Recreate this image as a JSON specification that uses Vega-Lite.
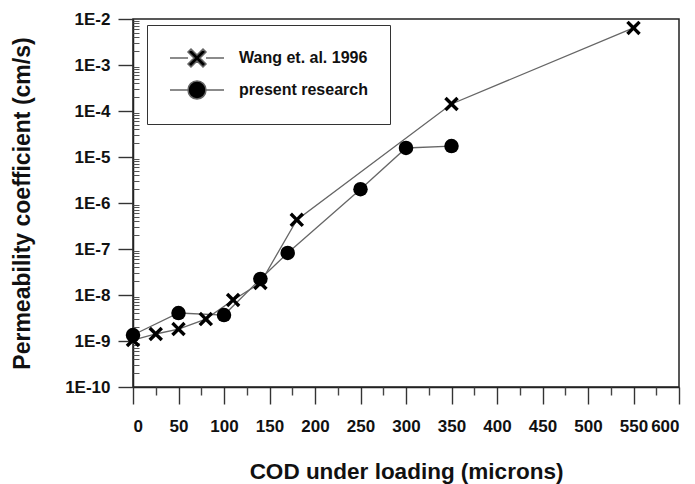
{
  "$schema": "https://vega.github.io/schema/vega-lite/v6.json",
  "width": 546,
  "height": 368,
  "autosize": "none",
  "padding": {"left": 133, "top": 19, "right": 16, "bottom": 97},
  "background": "white",
  "config": {
    "view": {"stroke": "#222", "strokeWidth": 1.5},
    "font": "Liberation Sans",
    "axis": {
      "labelFont": "Liberation Sans",
      "labelFontWeight": "bold",
      "labelFontSize": 17,
      "labelColor": "#111",
      "tickColor": "#333",
      "tickWidth": 1.4,
      "domainColor": "#222",
      "domainWidth": 1.5,
      "grid": false,
      "titleFont": "Liberation Sans",
      "titleFontWeight": "bold",
      "titleColor": "#111"
    }
  },
  "data": {
    "values": [
      {"series": "Wang et. al. 1996", "cod": 0, "k": 1.05e-9},
      {"series": "Wang et. al. 1996", "cod": 25, "k": 1.42e-9},
      {"series": "Wang et. al. 1996", "cod": 50, "k": 1.82e-9},
      {"series": "Wang et. al. 1996", "cod": 80, "k": 3.0e-9},
      {"series": "Wang et. al. 1996", "cod": 110, "k": 7.8e-9},
      {"series": "Wang et. al. 1996", "cod": 140, "k": 1.82e-8},
      {"series": "Wang et. al. 1996", "cod": 180, "k": 4.3e-7},
      {"series": "Wang et. al. 1996", "cod": 350, "k": 1.42e-4},
      {"series": "Wang et. al. 1996", "cod": 550, "k": 6.4e-3},
      {"series": "present research", "cod": 0, "k": 1.35e-9},
      {"series": "present research", "cod": 50, "k": 4.06e-9},
      {"series": "present research", "cod": 100, "k": 3.67e-9},
      {"series": "present research", "cod": 140, "k": 2.23e-8},
      {"series": "present research", "cod": 170, "k": 8.2e-8},
      {"series": "present research", "cod": 250, "k": 2.0e-6},
      {"series": "present research", "cod": 300, "k": 1.57e-5},
      {"series": "present research", "cod": 350, "k": 1.73e-5}
    ]
  },
  "layer": [
    {
      "mark": {"type": "line", "color": "#666", "strokeWidth": 1.3},
      "encoding": {
        "x": {
          "field": "cod", "type": "quantitative",
          "scale": {"domain": [0, 600], "nice": false, "zero": false},
          "axis": {
            "values": [0, 50, 100, 150, 200, 250, 300, 350, 400, 450, 500, 550, 600],
            "tickSize": 17,
            "labelPadding": 14,
            "title": "COD under loading (microns)",
            "titleFontSize": 22.5,
            "titlePadding": 26
          }
        },
        "y": {
          "field": "k", "type": "quantitative",
          "scale": {"type": "log", "domain": [1e-10, 1e-2], "nice": false},
          "axis": {
            "values": [1e-10, 1e-9, 1e-8, 1e-7, 1e-6, 1e-5, 1e-4, 1e-3, 1e-2],
            "labelExpr": "'1E' + round(log(datum.value) / LN10)",
            "tickSize": 15,
            "labelPadding": 8,
            "title": "Permeability coefficient (cm/s)",
            "titleFontSize": 23,
            "titlePadding": 30
          }
        },
        "detail": {"field": "series", "type": "nominal"}
      }
    },
    {
      "mark": {"type": "point", "filled": true, "color": "black", "opacity": 1, "size": 210},
      "encoding": {
        "x": {
          "field": "cod", "type": "quantitative",
          "axis": {
            "orient": "bottom",
            "values": [25, 75, 125, 175, 225, 275, 325, 375, 425, 475, 525, 575],
            "tickSize": 8,
            "tickColor": "#444",
            "labels": false,
            "domain": false,
            "title": null
          }
        },
        "y": {
          "field": "k", "type": "quantitative",
          "axis": {
            "orient": "right",
            "offset": -546,
            "values": [2e-10, 3e-10, 4e-10, 5e-10, 6e-10, 7e-10, 8e-10, 9e-10,
                       2e-9, 3e-9, 4e-9, 5e-9, 6e-9, 7e-9, 8e-9, 9e-9,
                       2e-8, 3e-8, 4e-8, 5e-8, 6e-8, 7e-8, 8e-8, 9e-8,
                       2e-7, 3e-7, 4e-7, 5e-7, 6e-7, 7e-7, 8e-7, 9e-7,
                       2e-6, 3e-6, 4e-6, 5e-6, 6e-6, 7e-6, 8e-6, 9e-6,
                       2e-5, 3e-5, 4e-5, 5e-5, 6e-5, 7e-5, 8e-5, 9e-5,
                       2e-4, 3e-4, 4e-4, 5e-4, 6e-4, 7e-4, 8e-4, 9e-4,
                       2e-3, 3e-3, 4e-3, 5e-3, 6e-3, 7e-3, 8e-3, 9e-3],
            "tickSize": 6,
            "tickWidth": 1,
            "tickColor": "#555",
            "labels": false,
            "domain": false,
            "title": null
          }
        },
        "shape": {
          "field": "series", "type": "nominal",
          "scale": {
            "domain": ["Wang et. al. 1996", "present research"],
            "range": ["M0.667,-1L1,-0.667L0.332,0L1,0.667L0.667,1L0,0.332L-0.667,1L-1,0.667L-0.332,0L-1,-0.667L-0.667,-1L0,-0.332Z", "circle"]
          },
          "legend": null
        }
      }
    },
    {
      "transform": [{"filter": "datum.cod < 0"}],
      "mark": {"type": "point", "fill": "black", "stroke": "#666", "strokeWidth": 1.2, "opacity": 1},
      "encoding": {
        "x": {"field": "cod", "type": "quantitative", "axis": null},
        "y": {"field": "k", "type": "quantitative", "axis": null},
        "shape": {
          "field": "series", "type": "nominal",
          "scale": {
            "domain": ["Wang et. al. 1996", "present research"],
            "range": ["M-2.7,0H-0.9M0.9,0H2.7M0.6,-0.9L0.9,-0.6L0.3,0L0.9,0.6L0.6,0.9L0,0.3L-0.6,0.9L-0.9,0.6L-0.3,0L-0.9,-0.6L-0.6,-0.9L0,-0.3Z", "M-2.7,0H-0.9M0.9,0H2.7M0.9,0A0.9,0.9 0 1,1 -0.9,0A0.9,0.9 0 1,1 0.9,0Z"]
          },
          "legend": {
            "orient": "none",
            "legendX": 14,
            "legendY": 6,
            "title": null,
            "padding": 22,
            "strokeColor": "#333",
            "symbolSize": 400,
            "symbolOffset": 17,
            "symbolOpacity": 1,
            "labelOffset": 31,
            "rowPadding": 8,
            "labelFont": "Liberation Sans",
            "labelFontWeight": "bold",
            "labelFontSize": 16,
            "labelColor": "#111"
          }
        }
      }
    }
  ],
  "resolve": {"axis": {"x": "independent", "y": "independent"}, "scale": {"shape": "independent"}}
}
